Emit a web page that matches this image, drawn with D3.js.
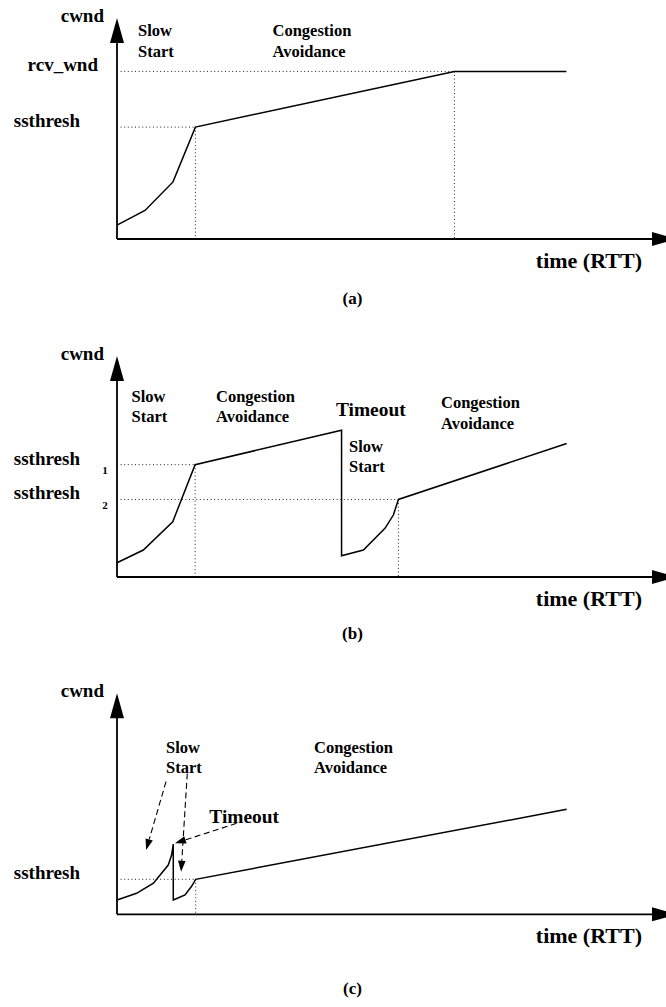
<!DOCTYPE html>
<html>
<head>
<meta charset="utf-8">
<script src="https://cdn.jsdelivr.net/npm/d3@7"></script>
<style>
  html, body { margin: 0; padding: 0; background: #fff; }
  svg { display: block; }
  text { font-family: "Liberation Serif", "Times New Roman", Times, serif; font-weight: bold; fill: #000; }
</style>
</head>
<body>
<svg id="chart" width="666" height="1007"></svg>
<script>
// ---- Data (time in RTT, cwnd in segments) ----

// (a) slow start up to ssthresh, then linear growth until capped by rcv_wnd
const timeA = [0, 1, 2, 2.8, 12.05, 16.05];
const cwndA = [1.5, 3.1, 6.2, 12.15, 18.2, 18.2];
const ssthreshA = 12.15, tSsthreshA = 2.8;
const rcvWndA = 18.2, tRcvWndA = 12.05;

// (b) timeout during congestion avoidance, slow start again up to ssthresh_2
const timeB = [0, 0.94, 1.99, 2.79, 8.02, 8.02, 8.8, 9.57, 9.87, 10.05, 16.06];
const cwndB = [1.55, 2.93, 6.0, 12.2, 15.93, 2.31, 2.93, 5.29, 6.73, 8.42, 14.5];
const ssthreshB1 = 12.2, tSsthreshB1 = 2.79;
const ssthreshB2 = 8.42, tSsthreshB2 = 10.05;

// (c) early timeout inside the first slow start
const timeC = [0, 0.7, 1.3, 1.83, 1.95, 2.01, 2.01, 2.43, 2.67, 2.81, 16.06];
const cwndC = [1.55, 2.28, 3.37, 5.35, 6.44, 7.63, 1.55, 2.1, 3.07, 3.8, 11.4];
const ssthreshC = 3.8, tSsthreshC = 2.81;

// dashed callout arrows in (c): from (t, cwnd) to (t, cwnd)
const calloutFromT = [1.75, 2.51, 4.27];
const calloutFromW = [14.4, 15.3, 9.88];
const calloutToT   = [1.04, 2.29, 2.07];
const calloutToW   = [6.98, 4.63, 7.71];

const panelTags = ["(a)", "(b)", "(c)"];
const yTitle = "cwnd";
const xTitle = "time (RTT)";

// ---- Layout ----
const svg = d3.select("#chart");
const X0 = 117;             // y-axis position
const PX_PER_RTT = 28;
const AXIS_H = 221;
const T_MAX = 20, W_MAX = 24;

const x = d3.scaleLinear().domain([0, T_MAX]).range([X0, X0 + T_MAX * PX_PER_RTT]);

function makeY(axisY) {
  return d3.scaleLinear().domain([0, W_MAX]).range([axisY, axisY - AXIS_H]);
}

const line = d3.line().x(d => x(d[0])).y(d => d[1]).curve(d3.curveLinear);

function drawAxes(g, y) {
  const oy = y(0);
  g.append("line").attr("x1", X0).attr("x2", x(T_MAX) - 12).attr("y1", oy).attr("y2", oy)
    .attr("stroke", "#000").attr("stroke-width", 1.8);
  g.append("line").attr("x1", X0).attr("x2", X0).attr("y1", oy).attr("y2", y(W_MAX) + 12)
    .attr("stroke", "#000").attr("stroke-width", 1.8);
  // arrow heads
  const tipX = x(T_MAX), tipY = y(W_MAX);
  g.append("path").attr("d", `M${tipX},${oy} L${tipX - 25},${oy - 7} L${tipX - 25},${oy + 7} Z`).attr("fill", "#000");
  g.append("path").attr("d", `M${X0},${tipY} L${X0 - 7},${tipY + 25} L${X0 + 7},${tipY + 25} Z`).attr("fill", "#000");
  g.append("text").attr("x", 104).attr("y", oy - 217.5).attr("text-anchor", "end")
    .attr("font-size", 19).text(yTitle);
  g.append("text").attr("x", 642).attr("y", oy + 29).attr("text-anchor", "end")
    .attr("font-size", 22).text(xTitle);
}

function dotted(g, x1, y1, x2, y2) {
  g.append("line").attr("x1", x1).attr("y1", y1).attr("x2", x2).attr("y2", y2)
    .attr("stroke", "#222").attr("stroke-width", 1).attr("stroke-dasharray", "1 2.6");
}

function guide(g, y, t, w) {
  dotted(g, X0, y(w), x(t), y(w));
  dotted(g, x(t), y(w), x(t), y(0));
}

function curve(g, y, ts, ws) {
  const pts = ts.map((t, i) => [t, y(ws[i])]);
  g.append("path").attr("d", line(pts)).attr("fill", "none")
    .attr("stroke", "#000").attr("stroke-width", 1.5).attr("stroke-linejoin", "miter");
}

function label(g, px, py, lines, size) {
  const t = g.append("text").attr("x", px).attr("y", py).attr("font-size", size || 16.5);
  lines.forEach((s, i) => t.append("tspan").attr("x", px).attr("dy", i === 0 ? 0 : 20.7).text(s));
}

function yLabel(g, y, w, txt, sub) {
  g.append("text").attr("x", 80).attr("y", y(w)).attr("text-anchor", "end")
    .attr("font-size", 19).attr("textLength", null).text(txt);
  if (sub) {
    g.append("text").attr("x", 105).attr("y", y(w) + 9.5).attr("text-anchor", "middle")
      .attr("font-size", 11).text(sub);
  }
}

function tag(g, txt, py) {
  g.append("text").attr("x", 352.5).attr("y", py).attr("text-anchor", "middle")
    .attr("font-size", 17).text(txt);
}

// ---- (a) ----
{
  const g = svg.append("g");
  const y = makeY(239);
  const oy = y(0);
  guide(g, y, tSsthreshA, ssthreshA);
  guide(g, y, tRcvWndA, rcvWndA);
  drawAxes(g, y);
  curve(g, y, timeA, cwndA);
  label(g, 138, oy - 203, ["Slow", "Start"]);
  label(g, 272.5, oy - 203, ["Congestion", "Avoidance"]);
  g.append("text").attr("x", 98).attr("y", y(rcvWndA)).attr("text-anchor", "end")
    .attr("font-size", 19).text("rcv_wnd");
  yLabel(g, y, ssthreshA, "ssthresh");
  tag(g, panelTags[0], 304);
}

// ---- (b) ----
{
  const g = svg.append("g");
  const y = makeY(577);
  const oy = y(0);
  guide(g, y, tSsthreshB1, ssthreshB1);
  guide(g, y, tSsthreshB2, ssthreshB2);
  drawAxes(g, y);
  curve(g, y, timeB, cwndB);
  label(g, 131.5, oy - 175.3, ["Slow", "Start"]);
  label(g, 216, oy - 175.3, ["Congestion", "Avoidance"]);
  label(g, 336, oy - 161, ["Timeout"], 19.4);
  label(g, 349, oy - 125.3, ["Slow", "Start"]);
  label(g, 441, oy - 169, ["Congestion", "Avoidance"]);
  yLabel(g, y, ssthreshB1, "ssthresh", "1");
  yLabel(g, y, ssthreshB2, "ssthresh", "2");
  tag(g, panelTags[1], 639);
}

// ---- (c) ----
{
  const g = svg.append("g");
  const y = makeY(914.3);
  const oy = y(0);
  guide(g, y, tSsthreshC, ssthreshC);
  drawAxes(g, y);
  curve(g, y, timeC, cwndC);
  label(g, 166, oy - 161.6, ["Slow", "Start"]);
  label(g, 314, oy - 161.6, ["Congestion", "Avoidance"]);
  label(g, 209.3, oy - 91.6, ["Timeout"], 19.4);
  yLabel(g, y, ssthreshC, "ssthresh");

  calloutFromT.forEach((t0, i) => {
    const x0 = x(t0), y0 = y(calloutFromW[i]);
    const x1 = x(calloutToT[i]), y1 = y(calloutToW[i]);
    const ang = Math.atan2(y1 - y0, x1 - x0);
    const L = 11, Hw = 3.8;
    const bx = x1 - L * Math.cos(ang), by = y1 - L * Math.sin(ang);
    g.append("line").attr("x1", x0).attr("y1", y0).attr("x2", bx).attr("y2", by)
      .attr("stroke", "#000").attr("stroke-width", 1.1).attr("stroke-dasharray", "6 3.5");
    const px = -Math.sin(ang) * Hw, py = Math.cos(ang) * Hw;
    g.append("path").attr("d", `M${x1},${y1} L${bx + px},${by + py} L${bx - px},${by - py} Z`)
      .attr("fill", "#000");
  });
  tag(g, panelTags[2], 994);
}
</script>
</body>
</html>
